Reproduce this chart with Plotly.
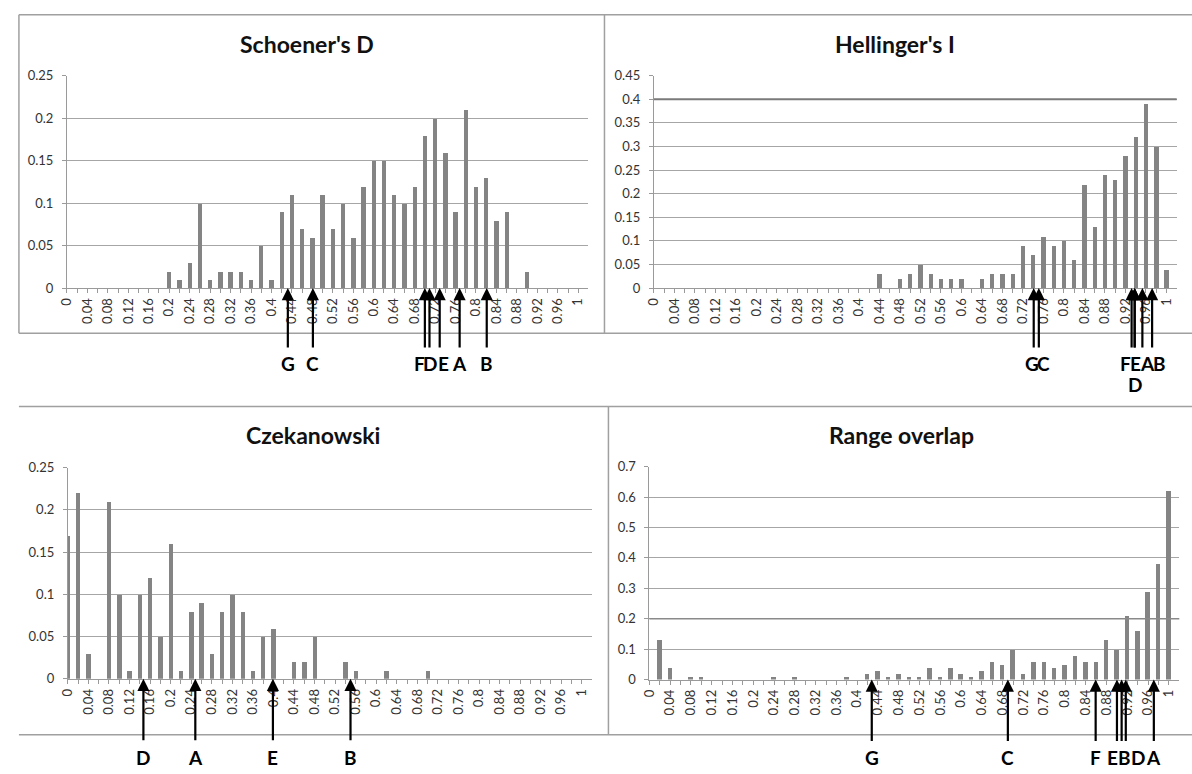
import plotly.graph_objects as go

# ---------------- data ----------------
bins = [0, 0.02, 0.04, 0.06, 0.08, 0.1, 0.12, 0.14, 0.16, 0.18, 0.2, 0.22, 0.24, 0.26, 0.28,
        0.3, 0.32, 0.34, 0.36, 0.38, 0.4, 0.42, 0.44, 0.46, 0.48, 0.5, 0.52, 0.54, 0.56, 0.58,
        0.6, 0.62, 0.64, 0.66, 0.68, 0.7, 0.72, 0.74, 0.76, 0.78, 0.8, 0.82, 0.84, 0.86, 0.88,
        0.9, 0.92, 0.94, 0.96, 0.98, 1]
tick_labels = ["0", "0.04", "0.08", "0.12", "0.16", "0.2", "0.24", "0.28", "0.32", "0.36",
               "0.4", "0.44", "0.48", "0.52", "0.56", "0.6", "0.64", "0.68", "0.72", "0.76",
               "0.8", "0.84", "0.88", "0.92", "0.96", "1"]

schoener = [0, 0, 0, 0, 0, 0, 0, 0, 0, 0, 0.02, 0.01, 0.03, 0.10, 0.01, 0.02, 0.02, 0.02, 0.01,
            0.05, 0.01, 0.09, 0.11, 0.07, 0.06, 0.11, 0.07, 0.10, 0.06, 0.12, 0.15, 0.15, 0.11,
            0.10, 0.12, 0.18, 0.20, 0.16, 0.09, 0.21, 0.12, 0.13, 0.08, 0.09, 0, 0.02, 0, 0, 0, 0, 0]
hellinger = [0, 0, 0, 0, 0, 0, 0, 0, 0, 0, 0, 0, 0, 0, 0, 0, 0, 0, 0, 0, 0, 0, 0.03, 0, 0.02,
             0.03, 0.05, 0.03, 0.02, 0.02, 0.02, 0, 0.02, 0.03, 0.03, 0.03, 0.09, 0.07, 0.11, 0.09,
             0.10, 0.06, 0.22, 0.13, 0.24, 0.23, 0.28, 0.32, 0.39, 0.30, 0.04]
czekanowski = [0.17, 0.22, 0.03, 0, 0.21, 0.10, 0.01, 0.10, 0.12, 0.05, 0.16, 0.01, 0.08, 0.09,
               0.03, 0.08, 0.10, 0.08, 0.01, 0.05, 0.06, 0, 0.02, 0.02, 0.05, 0, 0, 0.02, 0.01, 0,
               0, 0.01, 0, 0, 0, 0.01, 0, 0, 0, 0, 0, 0, 0, 0, 0, 0, 0, 0, 0, 0, 0]
range_overlap = [0, 0.13, 0.04, 0, 0.01, 0.01, 0, 0, 0, 0, 0, 0, 0.01, 0, 0.01, 0, 0, 0, 0, 0.01,
                 0, 0.02, 0.03, 0.01, 0.02, 0.01, 0.01, 0.04, 0.01, 0.04, 0.02, 0.01, 0.03, 0.06,
                 0.05, 0.10, 0.02, 0.06, 0.06, 0.04, 0.05, 0.08, 0.06, 0.06, 0.13, 0.10, 0.21,
                 0.16, 0.29, 0.38, 0.62]

schoener_marks = ["G", "C", "F", "D", "E", "A", "B"]
schoener_pos = [0.432, 0.481, 0.700, 0.709, 0.729, 0.768, 0.821]
hellinger_marks = ["G", "C", "F", "D", "E", "A", "B"]
hellinger_pos = [0.741, 0.751, 0.932, 0.938, 0.938, 0.953, 0.972]
czek_marks = ["D", "A", "E", "B"]
czek_pos = [0.147, 0.248, 0.399, 0.550]
range_marks = ["G", "C", "F", "E", "B", "D", "A"]
range_pos = [0.428, 0.690, 0.859, 0.900, 0.909, 0.917, 0.971]

titles = ["Schoener's D", "Hellinger's I", "Czekanowski", "Range overlap"]
y_max = [0.25, 0.45, 0.25, 0.7]
y_step = [0.05, 0.05, 0.05, 0.1]

# ---------------- layout geometry (pixels) ----------------
W, H = 1192, 774
px = lambda v: v / W
py = lambda v: 1 - v / H

panels = [
    dict(x=(58.4, 583.9), y=(69, 286), title=(300, 37), lab_y=363, lab2_y=384,
         tail=61, vals=schoener, marks=schoener_marks, pos=schoener_pos,
         shift={"F": -5, "D": 1, "E": 4}),
    dict(x=(649.8, 1176.6), y=(69, 286), title=(893, 37), lab_y=363, lab2_y=384,
         tail=61, vals=hellinger, marks=hellinger_marks, pos=hellinger_pos,
         shift={"G": -2, "C": 5, "F": -6, "E": 1, "A": 5, "B": 7}, second_row={"D"}),
    dict(x=(59.3, 587.5), y=(469.3, 685), title=(306, 436), lab_y=765, lab2_y=785,
         tail=63, vals=czekanowski, marks=czek_marks, pos=czek_pos, shift={}),
    dict(x=(645.3, 1179.2), y=(468.3, 685.7), title=(899, 436), lab_y=765, lab2_y=785,
         tail=63, vals=range_overlap, marks=range_marks, pos=range_pos,
         shift={"E": -4, "B": 3, "D": 12}),
]

FONT = "Lato"
BAR = "#848484"
GRID = "#a6a6a6"
AX = "#9a9a9a"

fig = go.Figure()
annotations = []
shapes = []

tickvals = bins
ticktext = []
li = 0
for i, b in enumerate(bins):
    if i % 2 == 0:
        ticktext.append(tick_labels[li])
        li += 1
    else:
        ticktext.append("")

for k, p in enumerate(panels):
    n = "" if k == 0 else str(k + 1)
    xa, ya = "x" + n, "y" + n
    fig.add_trace(go.Bar(x=bins, y=p["vals"], xaxis=xa, yaxis=ya, width=0.0085,
                         marker=dict(color=BAR, line=dict(width=0)), showlegend=False,
                         hoverinfo="x+y"))
    fig.layout["xaxis" + n] = dict(
        domain=[px(p["x"][0]), px(p["x"][1])], range=[0, 1.02], anchor=ya,
        tickmode="array", tickvals=tickvals, ticktext=ticktext, tickangle=-90,
        ticks="outside", ticklen=4, tickcolor=AX, showline=True, linecolor=AX, linewidth=1,
        showgrid=False, zeroline=False, fixedrange=True,
        tickfont=dict(family=FONT, size=13, color="#333333"))
    yv = []
    v = 0.0
    while v <= y_max[k] + 1e-9:
        yv.append(round(v, 2))
        v += y_step[k]
    fig.layout["yaxis" + n] = dict(
        domain=[py(p["y"][1]), py(p["y"][0])], range=[0, y_max[k] * 1.0005], anchor=xa,
        tickmode="array", tickvals=yv, ticktext=[("%g" % t) for t in yv],
        ticks="outside", ticklen=4, tickcolor=AX, showline=True, linecolor=AX, linewidth=1,
        showgrid=True, gridcolor=GRID, gridwidth=1, zeroline=False, fixedrange=True,
        ticklabelstandoff=6,
        tickfont=dict(family=FONT, size=13, color="#333333"))

    annotations.append(dict(text="<b>%s</b>" % titles[k], xref="paper", yref="paper",
                            x=px(p["title"][0]), y=py(p["title"][1]), xanchor="center",
                            yanchor="middle", showarrow=False,
                            font=dict(family=FONT, size=23, color="#111111")))
    second = p.get("second_row", set())
    for m, xpos in zip(p["marks"], p["pos"]):
        annotations.append(dict(x=xpos, y=0, xref=xa, yref=ya, text="", showarrow=True,
                                ax=0, ay=p["tail"], arrowhead=2, arrowsize=1.1,
                                arrowwidth=2.2, arrowcolor="#000000", standoff=0))
        ly = p["lab2_y"] if m in second else p["lab_y"]
        annotations.append(dict(x=xpos, xref=xa, y=py(ly), yref="paper",
                                text="<b>%s</b>" % m, showarrow=False,
                                xshift=p["shift"].get(m, 0), xanchor="center",
                                yanchor="middle",
                                font=dict(family=FONT, size=19, color="#000000")))

# emphasised grid lines seen in the reference
shapes.append(dict(type="line", xref="x2 domain", yref="y2", x0=0, x1=1, y0=0.4, y1=0.4,
                   line=dict(color="#7a7a7a", width=2)))
shapes.append(dict(type="line", xref="x4 domain", yref="y4", x0=0, x1=1, y0=0.2, y1=0.2,
                   line=dict(color="#8a8a8a", width=1.6)))

# panel frames
BORDER = dict(color="#a0a0a0", width=1.5)
frame_lines = [
    (10, 7, 1192, 7), (10, 7, 10, 332), (10, 332, 1192, 332), (600, 7, 600, 332),
    (10, 407, 1192, 407), (604, 407, 604, 742), (10, 742, 1192, 742),
]
for x0, y0, x1, y1 in frame_lines:
    shapes.append(dict(type="line", xref="paper", yref="paper", x0=px(x0), y0=py(y0),
                       x1=px(x1), y1=py(y1), line=BORDER, layer="below"))

fig.update_layout(width=W, height=H, margin=dict(l=0, r=0, t=0, b=0),
                  paper_bgcolor="white", plot_bgcolor="white", bargap=0,
                  annotations=annotations, shapes=shapes, showlegend=False,
                  font=dict(family=FONT))

fig.write_html("out.html")
